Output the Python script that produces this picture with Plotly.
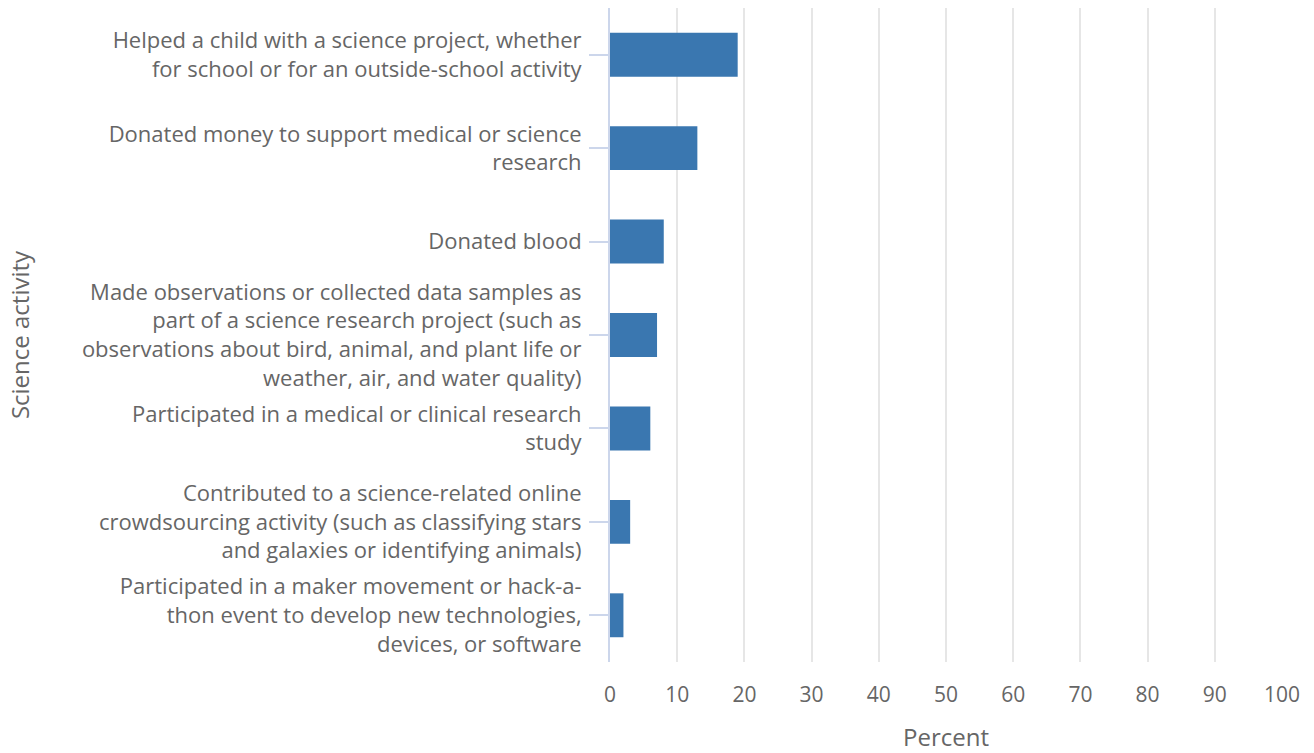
import plotly.graph_objects as go

activities = [
    "Helped a child with a science project, whether<br>for school or for an outside-school activity",
    "Donated money to support medical or science<br>research",
    "Donated blood",
    "Made observations or collected data samples as<br>part of a science research project (such as<br>observations about bird, animal, and plant life or<br>weather, air, and water quality)",
    "Participated in a medical or clinical research<br>study",
    "Contributed to a science-related online<br>crowdsourcing activity (such as classifying stars<br>and galaxies or identifying animals)",
    "Participated in a maker movement or hack-a-<br>thon event to develop new technologies,<br>devices, or software",
]
percent = [19, 13, 8, 7, 6, 3, 2]
x_ticks = [0, 10, 20, 30, 40, 50, 60, 70, 80, 90, 100]

text_color = "#666666"

fig = go.Figure()
fig.add_trace(go.Bar(
    x=percent,
    y=activities,
    orientation="h",
    marker=dict(color="#3a77b0", line=dict(width=0)),
    width=0.47,
    hoverinfo="x+y",
))

fig.update_layout(
    width=1314,
    height=753,
    paper_bgcolor="white",
    plot_bgcolor="white",
    font=dict(family="Open Sans, sans-serif", size=20, color=text_color),
    margin=dict(l=610, r=32, t=8, b=91, autoexpand=False),
    showlegend=False,
    bargap=0.53,
    xaxis=dict(
        range=[0, 100],
        tickvals=x_ticks,
        tickfont=dict(size=21),
        showgrid=True,
        gridcolor="#e6e6e6",
        gridwidth=2,
        zeroline=False,
        showline=False,
        ticks="outside",
        ticklen=14,
        tickcolor="rgba(0,0,0,0)",
        title=dict(text="Percent", font=dict(size=24, color=text_color), standoff=26),
    ),
    yaxis=dict(
        autorange="reversed",
        showgrid=False,
        showline=True,
        linecolor="#ccd6eb",
        linewidth=2,
        ticks="outside",
        ticklen=19,
        tickwidth=2,
        tickcolor="#ccd6eb",
        ticklabelstandoff=3,
        tickfont=dict(size=22),
        title=dict(text="Science activity", font=dict(size=24, color=text_color), standoff=45),
    ),
)

# drop the default 8px body margin so the figure sits at the window corner
fig.write_html(
    "out.html",
    config={"displayModeBar": False},
    post_script="document.body.style.margin='0';",
)
